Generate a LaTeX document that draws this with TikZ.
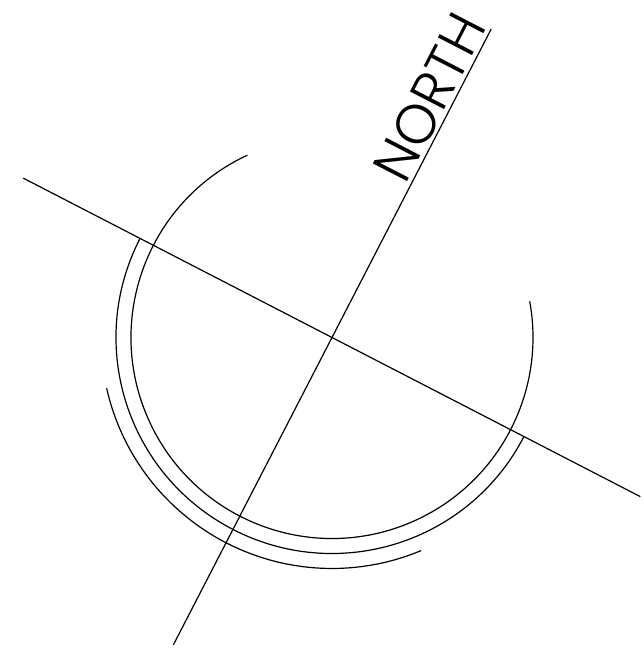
\documentclass[tikz,border=0pt]{standalone}
\usepackage{fontspec}
\usetikzlibrary{calc}
\IfFontExistsTF{Poppins Light}{\newfontfamily\northfont{Poppins Light}}{\newfontfamily\northfont{Poppins}}
\begin{document}
\begin{tikzpicture}[x=1pt,y=1pt,
  stroke/.style={line width=1.2pt, line cap=butt},
  label/.style={font=\northfont\fontsize{55}{55}\selectfont, rotate=62.7, anchor=base east, inner sep=0pt}]
\useasboundingbox (0,0) rectangle (644,659);
\coordinate (C) at (332,321.5);
\coordinate (Ntop) at ($(C)+(62.7:347)$);
\coordinate (Nbot) at ($(C)+(242.7:346)$);
\coordinate (Wend) at ($(C)+(152.7:347.5)$);
\coordinate (Eend) at ($(C)+(332.7:347)$);
\draw[stroke] (Nbot) -- (Ntop);
\draw[stroke] (Wend) -- (Eend);
\coordinate (A1) at ($(C)+(114.9:201)$);
\coordinate (A2) at ($(C)+(152.7:216)$);
\coordinate (A3) at ($(C)+(192.7:231)$);
\draw[stroke] (A1) arc[start angle=114.9, end angle=370.4, radius=201];
\draw[stroke] (A2) arc[start angle=152.7, end angle=332.7, radius=216];
\draw[stroke] (A3) arc[start angle=192.7, end angle=292.7, radius=231];
\node[label] (T) at ($(C)+(62.7:348)+(152.7:4)$) {NORTH};
\end{tikzpicture}
\end{document}
